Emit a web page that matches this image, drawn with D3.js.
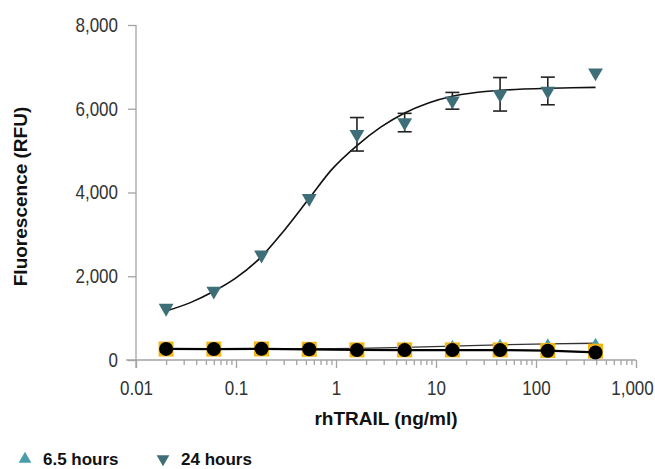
<!DOCTYPE html>
<html>
<head>
<meta charset="utf-8">
<script src="https://cdn.jsdelivr.net/npm/d3@7"></script>
<style>
  html, body { margin: 0; padding: 0; background: #fff; }
  svg { display: block; }
</style>
</head>
<body>
<svg id="chart" width="655" height="469"></svg>
<script>
// ---- data ----
const concentrations = [0.02, 0.06, 0.18, 0.54, 1.62, 4.86, 14.58, 43.74, 131.2, 393.7];
const hours24 = [1240, 1650, 2510, 3860, 5390, 5670, 6190, 6345, 6425, 6860];
const hours24Err = [0, 0, 0, 0, 400, 220, 200, 400, 330, 0];
const hours65 = [250, 255, 262, 270, 290, 318, 350, 375, 389, 400];
const controlSquares = [262, 260, 264, 256, 242, 242, 242, 242, 228, 212];
const controlCircles = [265, 262, 266, 256, 240, 236, 236, 236, 222, 180];
// fitted curve for 24 hours
const fit24X = [0.02, 0.035, 0.06, 0.1, 0.18, 0.3, 0.54, 0.9, 1.62, 2.8, 4.86, 8.4, 14.58, 25, 43.74, 75, 131.2, 230, 393.7];
const fit24Y = [1170, 1370, 1640, 1960, 2470, 3080, 3860, 4540, 5120, 5560, 5900, 6140, 6300, 6390, 6440, 6470, 6490, 6500, 6510];
// fitted line for 6.5 hours
const fit65Y = [255, 256, 259, 264, 276, 300, 332, 362, 386, 400];
const yTicks = [0, 2000, 4000, 6000, 8000];
const xTicks = [0.01, 0.1, 1, 10, 100, 1000];
const legendLabels = ["6.5 hours", "24 hours"];

const colors = { h65: "#4a9cab", h24: "#3e6f79", square: "#f2b516", axis: "#a3a3a3", text: "#333333" };

const svg = d3.select("#chart");
const x = d3.scaleLog().domain([0.01, 1000]).range([136, 636]);
const y = d3.scaleLinear().domain([0, 8000]).range([360, 25]);

const tickFont = "'Liberation Sans', Arial, sans-serif";
const boldFont = "'Liberation Sans', Arial, sans-serif";
const squeeze = 0.85;

// ---- axes ----
const yAxis = svg.append("g").attr("transform", `translate(${x(0.01)},0)`)
  .call(d3.axisLeft(y).tickValues(yTicks).tickSize(8).tickPadding(10).tickFormat(d3.format(",")));
const minorTicks = [];
for (let e = -2; e < 3; e++) for (let m = 1; m < 10; m++) minorTicks.push(m * Math.pow(10, e));
minorTicks.push(1000);
const xAxis = svg.append("g").attr("transform", `translate(0,${y(0)})`)
  .call(d3.axisBottom(x).tickValues(minorTicks).tickSize(5).tickFormat(() => ""));
const isMajor = d => xTicks.some(t => Math.abs(t - d) / t < 1e-9);
xAxis.selectAll(".tick line").filter(isMajor).attr("y2", 8);
xAxis.selectAll(".tick text").remove();
xAxis.selectAll(".tick").filter(isMajor).append("text")
  .attr("y", 35).attr("text-anchor", "middle")
  .attr("x", d => (d >= 1000 ? -4 / squeeze : 0))
  .text(d => d3.format(",")(+d.toPrecision(3)));
xAxis.select(".domain").attr("d", `M126,0H${x(1000)}`);

[xAxis, yAxis].forEach(g => {
  g.selectAll(".domain").attr("stroke", colors.axis).attr("stroke-width", 1.3);
  g.selectAll(".tick line").attr("stroke", colors.axis).attr("stroke-width", 1.3);
  g.selectAll("text").attr("fill", colors.text).attr("font-family", tickFont).attr("font-size", 20)
    .attr("transform", `scale(${squeeze},1)`);
});
yAxis.selectAll(".tick text").attr("x", -18 / squeeze);
yAxis.select(".domain").attr("d", `M0,${y(8000)}V${y(0) + 8}`);

// axis titles
svg.append("text").attr("transform", `translate(27,${(y(0) + y(8000)) / 2 + 4}) rotate(-90)`)
  .attr("text-anchor", "middle").attr("font-family", boldFont).attr("font-weight", "bold")
  .attr("font-size", 19).attr("fill", "#111").text("Fluorescence (RFU)");
svg.append("text").attr("x", 386).attr("y", 425).attr("text-anchor", "middle")
  .attr("font-family", boldFont).attr("font-weight", "bold").attr("font-size", 19)
  .attr("fill", "#111").text("rhTRAIL (ng/ml)");

// ---- 24 hour fit curve ----
const fit24 = fit24X.map((c, i) => [c, fit24Y[i]]);
svg.append("path").datum(fit24)
  .attr("fill", "none").attr("stroke", "#111").attr("stroke-width", 1.6)
  .attr("d", d3.line().x(d => x(d[0])).y(d => y(d[1])).curve(d3.curveMonotoneX));

// error bars
const pts24 = concentrations.map((c, i) => ({ c, v: hours24[i], e: hours24Err[i] }));
const eb = svg.append("g").attr("stroke", "#222").attr("stroke-width", 1.6).attr("fill", "none");
pts24.filter(d => d.e > 0).forEach(d => {
  const cx = x(d.c);
  eb.append("line").attr("x1", cx).attr("x2", cx).attr("y1", y(d.v + d.e)).attr("y2", y(d.v - d.e));
  eb.append("line").attr("x1", cx - 7).attr("x2", cx + 7).attr("y1", y(d.v + d.e)).attr("y2", y(d.v + d.e));
  eb.append("line").attr("x1", cx - 7).attr("x2", cx + 7).attr("y1", y(d.v - d.e)).attr("y2", y(d.v - d.e));
});

// 24 hour markers (down triangles)
const triDown = d3.symbol().type(d3.symbolTriangle).size(95);
svg.append("g").selectAll("path").data(pts24).join("path")
  .attr("d", triDown).attr("fill", colors.h24)
  .attr("transform", d => `translate(${x(d.c)},${y(d.v)}) rotate(180)`);

// ---- low series ----
const lineGen = d3.line().x(d => x(d[0])).y(d => y(d[1])).curve(d3.curveMonotoneX);
svg.append("path").datum(concentrations.map((c, i) => [c, fit65Y[i]]))
  .attr("fill", "none").attr("stroke", "#333").attr("stroke-width", 1.3).attr("d", lineGen);

const triUp = d3.symbol().type(d3.symbolTriangle).size(40);
svg.append("g").selectAll("path").data(concentrations.map((c, i) => [c, hours65[i]])).join("path")
  .attr("d", triUp).attr("fill", colors.h65)
  .attr("transform", d => `translate(${x(d[0])},${y(d[1])})`);

svg.append("g").selectAll("rect").data(concentrations.map((c, i) => [c, controlSquares[i]])).join("rect")
  .attr("x", d => x(d[0]) - 7.5).attr("y", d => y(d[1]) - 7.5)
  .attr("width", 15).attr("height", 15).attr("fill", colors.square);

svg.append("path").datum(concentrations.map((c, i) => [c, controlCircles[i]]))
  .attr("fill", "none").attr("stroke", "#000").attr("stroke-width", 2.2).attr("d", d3.line().x(d => x(d[0])).y(d => y(d[1])));

svg.append("g").selectAll("circle").data(concentrations.map((c, i) => [c, controlCircles[i]])).join("circle")
  .attr("cx", d => x(d[0])).attr("cy", d => y(d[1])).attr("r", 7).attr("fill", "#000");

// ---- legend ----
const legend = svg.append("g").attr("font-family", boldFont).attr("font-weight", "bold")
  .attr("font-size", 17).attr("fill", "#111");
const legItems = [
  { label: legendLabels[0], color: colors.h65, x: 25, rot: 0 },
  { label: legendLabels[1], color: colors.h24, x: 163, rot: 180 }
];
legItems.forEach(it => {
  legend.append("path").attr("d", d3.symbol().type(d3.symbolTriangle).size(70)())
    .attr("fill", it.color).attr("transform", `translate(${it.x},${459}) rotate(${it.rot})`);
  legend.append("text").attr("x", it.x + 18).attr("y", 465).text(it.label);
});
</script>
</body>
</html>
